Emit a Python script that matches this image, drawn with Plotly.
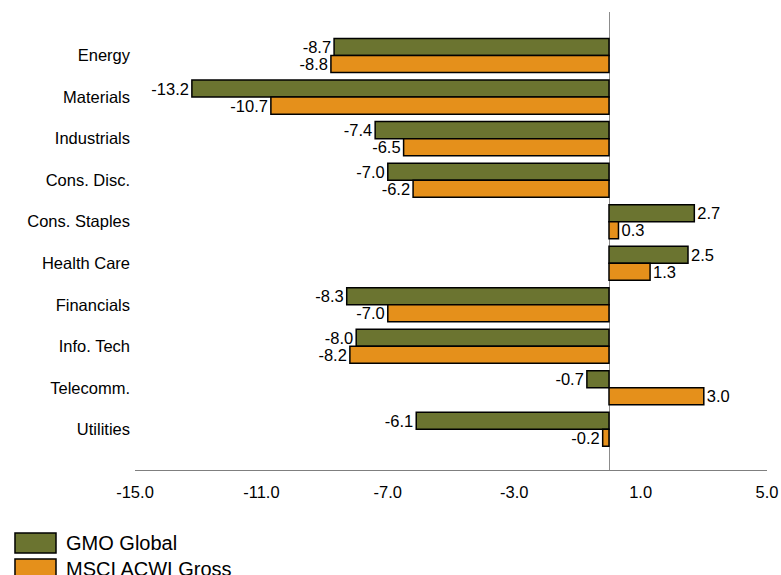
import plotly.graph_objects as go

SECTORS = ["Energy", "Materials", "Industrials", "Cons. Disc.", "Cons. Staples",
           "Health Care", "Financials", "Info. Tech", "Telecomm.", "Utilities"]
GMO_GLOBAL = [-8.7, -13.2, -7.4, -7.0, 2.7, 2.5, -8.3, -8.0, -0.7, -6.1]
MSCI_ACWI = [-8.8, -10.7, -6.5, -6.2, 0.3, 1.3, -7.0, -8.2, 3.0, -0.2]
X_TICKS = [-15, -11, -7, -3, 1, 5]

GREEN = "#6b7430"
ORANGE = "#e5901b"
FONT = "Liberation Sans, Arial, sans-serif"

fig = go.Figure()
for name, vals, color in [("GMO Global", GMO_GLOBAL, GREEN), ("MSCI ACWI Gross", MSCI_ACWI, ORANGE)]:
    fig.add_trace(go.Bar(
        y=SECTORS,
        x=vals,
        name=name,
        orientation="h",
        marker=dict(color=color, line=dict(color="black", width=1.5)),
        text=[f"{v:.1f}" for v in vals],
        textposition="outside",
        constraintext="none",
        textfont=dict(size=16.5, color="black", family=FONT),
        cliponaxis=False,
        showlegend=False,
    ))

fig.update_layout(
    width=781,
    height=575,
    barmode="group",
    bargap=0.18,
    bargroupgap=0,
    plot_bgcolor="white",
    paper_bgcolor="white",
    font=dict(family=FONT, size=16.5, color="black"),
    margin=dict(l=135, r=14, t=12, b=105, autoexpand=False),
    showlegend=False,
)
fig.update_xaxes(
    range=[-15, 5],
    tickvals=X_TICKS,
    ticktext=[f"{t:.1f}" for t in X_TICKS],
    showgrid=False,
    zeroline=True,
    zerolinecolor="#8c8c8c",
    zerolinewidth=1.2,
    showline=True,
    linecolor="#7f7f7f",
    linewidth=1.2,
    ticks="",
    ticklabelstandoff=7,
    automargin=False,
)
fig.update_yaxes(
    range=[9.98, -1.05],
    showgrid=False,
    showline=False,
    ticks="",
    ticklabelstandoff=4,
    automargin=False,
)

# legend drawn as boxes + labels below the plot, bottom left
for i, (name, color) in enumerate([("GMO Global", GREEN), ("MSCI ACWI Gross", ORANGE)]):
    y0 = -0.1376 - i * 0.0567
    fig.add_shape(type="rect", xref="paper", yref="paper",
                  x0=-0.1899, x1=-0.1250, y0=y0, y1=y0 - 0.0437,
                  fillcolor=color, line=dict(color="black", width=1.5))
    fig.add_annotation(xref="paper", yref="paper", x=-0.113, y=y0 - 0.0218,
                       text=name, showarrow=False, xanchor="left", yanchor="middle",
                       font=dict(size=20, family=FONT, color="black"))

fig.write_html("out.html", config={"displayModeBar": False},
               post_script="document.body.style.margin='0';")
